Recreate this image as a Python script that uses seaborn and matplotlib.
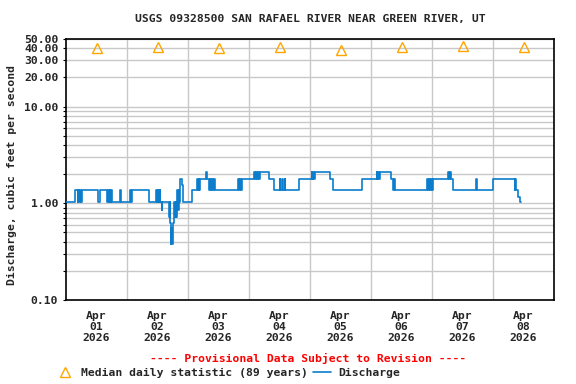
import numpy as np
import pandas as pd
import matplotlib
matplotlib.use("Agg")
import matplotlib.pyplot as plt
import matplotlib.ticker as mticker
from matplotlib.lines import Line2D
import seaborn as sns

# ---- data ----
title = "USGS 09328500 SAN RAFAEL RIVER NEAR GREEN RIVER, UT"
ylabel = "Discharge, cubic feet per second"
start = pd.Timestamp("2026-04-01 00:00")

# discharge step changes: hours after Apr 01 00:00, value (cfs)
q_hours = [0, 3.7, 4.6, 4.9, 5.3, 5.6, 6.0, 6.4, 12.4, 13.2, 16.1, 16.4, 16.9, 17.2, 17.5, 17.8, 18.1,
           21.2, 21.5, 25.3, 25.6, 25.9, 32.5, 35.4, 35.7, 36.0, 36.3, 36.8, 37.1, 37.6, 37.9,
           40.6, 40.9, 41.1, 41.3, 41.5, 41.8, 42.0, 42.3, 42.5, 42.8, 43.1, 43.4, 43.7, 44.0, 44.3,
           44.5, 44.8, 45.0, 45.8, 46.2, 49.7, 51.6, 51.9, 52.2, 52.5, 52.8, 55.2, 55.5, 56.4, 56.8,
           57.2, 57.6, 58.0, 58.3, 58.6, 67.8, 68.2, 68.6, 69.0, 69.3, 74.0, 74.3, 74.8, 75.1, 75.6,
           75.9, 76.3, 79.9, 81.9, 84.0, 84.3, 85.0, 85.3, 86.0, 86.3, 91.7, 96.6, 96.9, 97.3, 97.6,
           97.9, 103.8, 105.1, 116.5, 122.2, 122.5, 122.9, 123.2, 123.5, 127.7, 128.7, 129.0, 129.3,
           142.2, 142.5, 142.9, 143.3, 143.7, 144.0, 144.4, 150.3, 150.6, 151.0, 151.3, 152.3,
           161.5, 161.8, 168.0, 176.5, 176.8, 177.1, 178.0, 178.5, 179.2]
q_values = [1.02, 1.36, 1.02, 1.36, 1.02, 1.36, 1.02, 1.36, 1.02, 1.36, 1.02, 1.36, 1.02, 1.36, 1.02, 1.36, 1.02,
            1.36, 1.02, 1.36, 1.02, 1.36, 1.02, 1.36, 1.02, 1.36, 1.02, 1.36, 1.02, 0.85, 1.02,
            0.72, 1.02, 0.62, 0.38, 0.55, 0.38, 0.62, 0.72, 1.02, 0.72, 1.02, 0.72, 1.36, 0.85, 1.36,
            1.02, 1.36, 1.77, 1.55, 1.02, 1.36, 1.77, 1.36, 1.77, 1.36, 1.77, 2.12, 1.77, 1.36, 1.77,
            1.36, 1.77, 1.36, 1.77, 1.36, 1.77, 1.36, 1.77, 1.36, 1.77, 2.12, 1.77, 2.12, 1.77, 2.12,
            1.77, 2.12, 1.77, 1.36, 1.77, 1.36, 1.77, 1.36, 1.77, 1.36, 1.77, 2.12, 1.77, 2.12, 1.77,
            2.12, 1.77, 1.36, 1.77, 2.12, 1.77, 2.12, 1.77, 2.12, 1.77, 1.36, 1.77, 1.36,
            1.77, 1.36, 1.77, 1.36, 1.77, 1.36, 1.77, 2.12, 1.77, 2.12, 1.77, 1.36,
            1.77, 1.36, 1.77, 1.36, 1.77, 1.36, 1.17, 1.02, 1.02]

# median daily statistic, one per day (plotted at noon)
median_days = ["2026-04-01", "2026-04-02", "2026-04-03", "2026-04-04",
               "2026-04-05", "2026-04-06", "2026-04-07", "2026-04-08"]
median_values = [40.2, 41.0, 40.1, 41.0, 38.3, 41.0, 42.0, 41.0]

y_ticks = [0.1, 1, 10, 20, 30, 40, 50]

# ---- build frames ----
dis = pd.DataFrame({"time": start + pd.to_timedelta(q_hours, unit="h"), "q": q_values})
med = pd.DataFrame({"time": pd.to_datetime(median_days) + pd.Timedelta(hours=12), "q": median_values})

sns.set_theme(style="white")
plt.rcParams["font.family"] = ["DejaVu Sans Mono"]
plt.rcParams["font.weight"] = "bold"

fig = plt.figure(figsize=(5.76, 3.84), dpi=100)
ax = fig.add_axes([66 / 576, 1 - 300 / 384, (554 - 66) / 576, (300 - 39) / 384])

blue = "#0b7dcc"
orange = "#FFA500"
fs = 8.2

sns.lineplot(data=dis, x="time", y="q", ax=ax, color=blue, lw=1.2,
             drawstyle="steps-post", errorbar=None, zorder=3)
sns.lineplot(data=med, x="time", y="q", ax=ax, color=orange, lw=0, marker="^",
             markersize=7, markerfacecolor="none", markeredgecolor=orange,
             markeredgewidth=1.0, errorbar=None, zorder=4)

ax.set_yscale("log")
ax.set_ylim(0.1, 50)
ax.set_xlim(start, start + pd.Timedelta(days=8))

ax.yaxis.set_major_locator(mticker.FixedLocator(y_ticks))
ax.yaxis.set_major_formatter(mticker.FuncFormatter(lambda v, p: f"{v:.2f}"))
ax.yaxis.set_minor_locator(mticker.LogLocator(base=10, subs=np.arange(2, 10)))
ax.yaxis.set_minor_formatter(mticker.NullFormatter())

noons = [start + pd.Timedelta(days=i, hours=12) for i in range(8)]
ax.set_xticks(noons)
ax.set_xticklabels([d.strftime("%b\n%d\n%Y") for d in noons], linespacing=1.1)
mids = [start + pd.Timedelta(days=i) for i in range(1, 8)]
for m in mids:
    ax.axvline(m, color="#c8c8c8", lw=1.0, zorder=1)

ax.grid(True, axis="y", which="both", color="#c8c8c8", lw=1.0, zorder=1)
ax.grid(False, axis="x")

ax.tick_params(axis="x", length=0, pad=8, labelsize=fs)
ax.tick_params(axis="y", which="both", direction="out", length=2.5, width=0.8,
               color="black", left=True, labelsize=fs, pad=3)
for lab in ax.get_xticklabels() + ax.get_yticklabels():
    lab.set_fontweight("bold")

for s in ax.spines.values():
    s.set_color("black")
    s.set_linewidth(1.2)

ax.set_xlabel("")
ax.set_ylabel(ylabel, fontsize=fs, fontweight="bold", labelpad=6)
ax.yaxis.set_label_coords(-0.10, 0.48)
fig.text((66 + 554) / 2 / 576, 1 - 19 / 384, title, ha="center", va="center",
         fontsize=fs, fontweight="bold")
fig.text(308 / 576, 1 - 358 / 384, "---- Provisional Data Subject to Revision ----",
         ha="center", va="center", fontsize=fs, fontweight="bold", color="red")

handles = [Line2D([], [], marker="^", ls="", mfc="none", mec=orange, mew=1.0, ms=7),
           Line2D([], [], color=blue, lw=1.2)]
fig.legend(handles, ["Median daily statistic (89 years)", "Discharge"],
           loc="center", bbox_to_anchor=(228 / 576, 1 - 373 / 384), ncol=2, frameon=False,
           prop={"family": "DejaVu Sans Mono", "weight": "bold", "size": fs},
           handlelength=1.6, handletextpad=0.6, columnspacing=0.4, borderpad=0)

fig.savefig("out.png", dpi=100, facecolor="white")
